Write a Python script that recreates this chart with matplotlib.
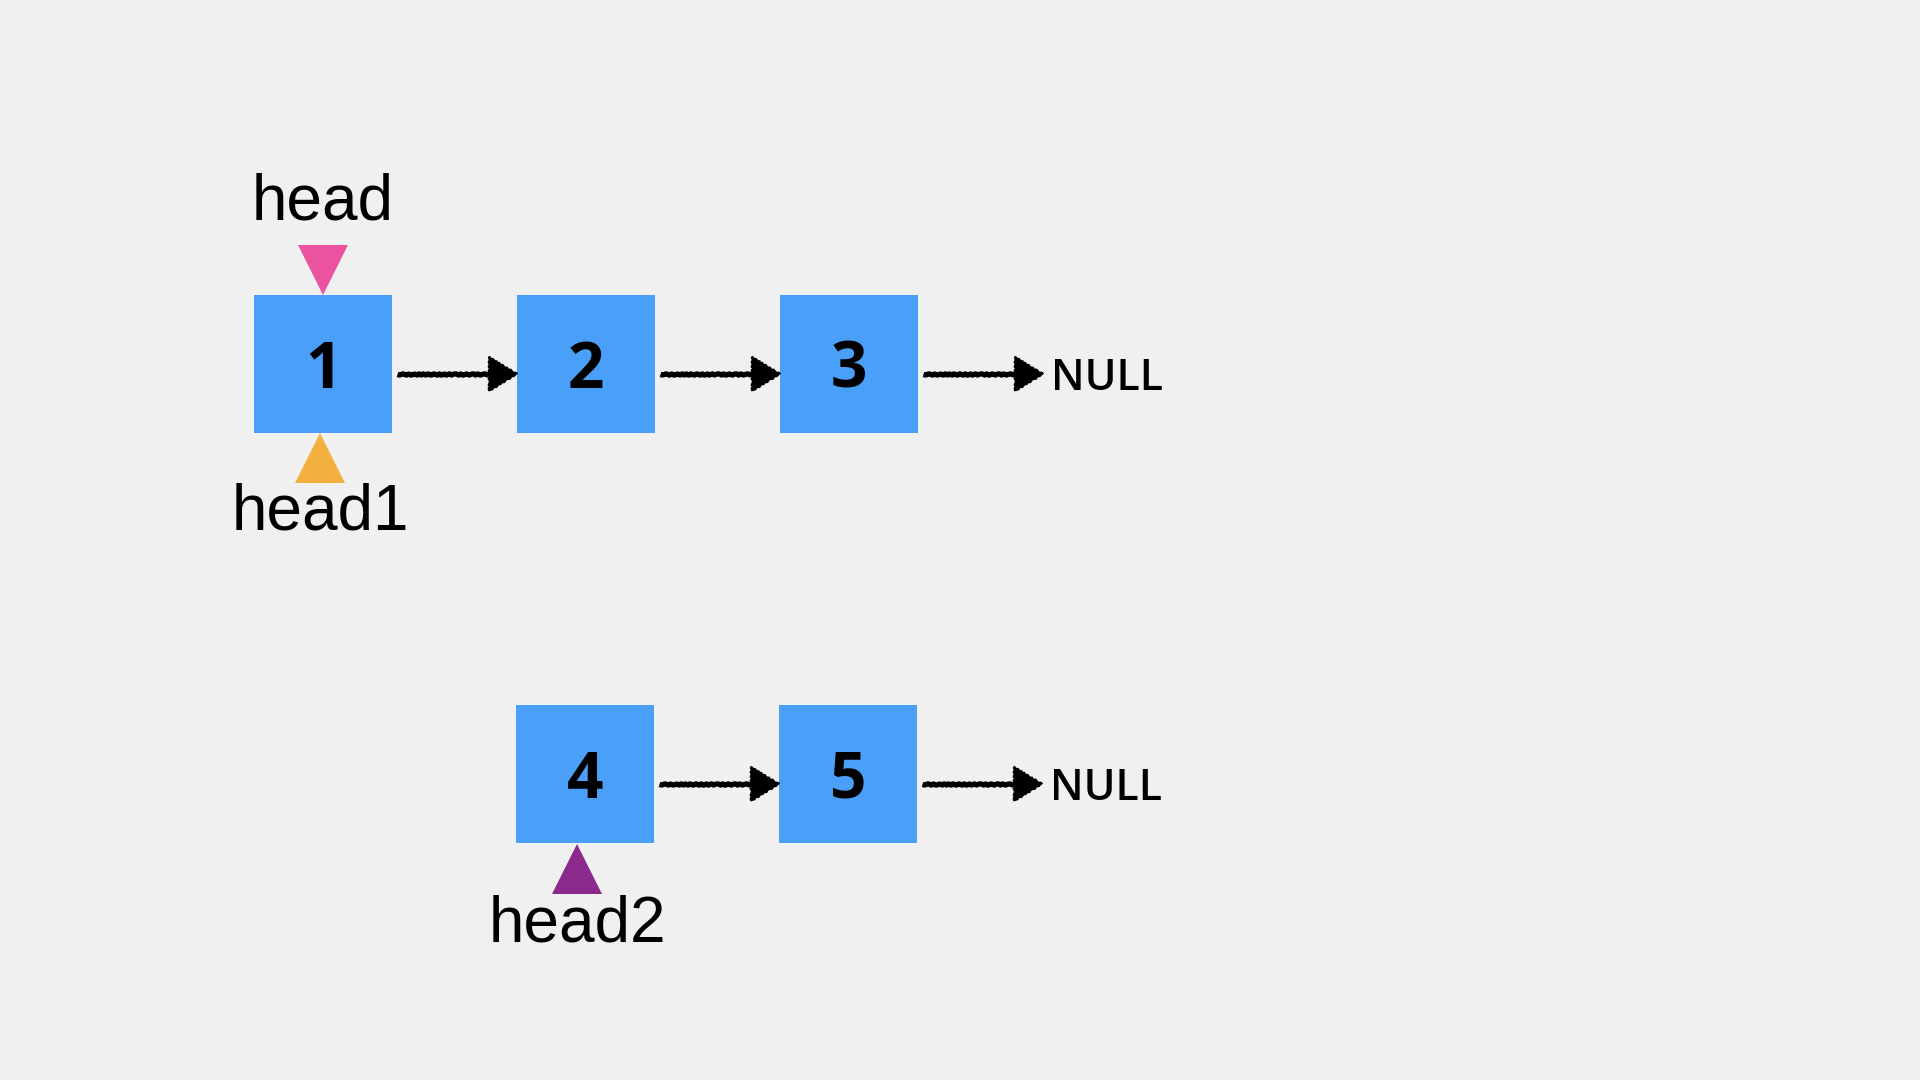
import matplotlib
matplotlib.use("Agg")
import matplotlib.pyplot as plt
from matplotlib.patches import Rectangle, Polygon

# ---- data ----
list1_values = ["1", "2", "3"]
list2_values = ["4", "5"]
null_label = "NULL"
pointer_labels = ["head", "head1", "head2"]
pointer_colors = ["#EC539F", "#F2B13E", "#8B2A8C"]

BG = "#F0F0F0"
BOX = "#4A9FF8"

fig = plt.figure(figsize=(19.2, 10.8), dpi=100, facecolor=BG)
ax = fig.add_axes([0, 0, 1, 1])
ax.set_xlim(0, 1920)
ax.set_ylim(1080, 0)
ax.axis("off")
ax.set_facecolor(BG)

SIZE = 138
PITCH = 263
NUM_FONT = dict(family=["Open Sans", "DejaVu Sans"], fontsize=46, fontweight="bold")
NULL_FONT = dict(family=["Open Sans", "DejaVu Sans"], fontsize=31, fontweight="semibold")
LABEL_FONT = dict(family=["Liberation Sans", "DejaVu Sans"], fontsize=46)


def arrow(x0, x1, y):
    (ln,) = ax.plot([x0, x1 - 20], [y, y], color="black", lw=3.8,
                    solid_capstyle="butt", zorder=3)
    ln.set_sketch_params(0.6, 6, 2)
    head = Polygon([[x1, y], [x1 - 28, y - 17], [x1 - 28, y + 17]], closed=True,
                   facecolor="black", edgecolor="black", lw=1.2, zorder=3)
    head.set_sketch_params(0.6, 5, 2)
    ax.add_patch(head)


def draw_list(values, x_start, y_top):
    for i, v in enumerate(values):
        x = x_start + i * PITCH
        ax.add_patch(Rectangle((x, y_top), SIZE, SIZE, facecolor=BOX,
                               edgecolor="none", zorder=2))
        ax.text(x + SIZE / 2, y_top + SIZE / 2 + 24, v, ha="center",
                va="baseline", color="black", zorder=4, **NUM_FONT)
        arrow(x + SIZE + 5, x + PITCH, y_top + 79)
    xn = x_start + (len(values) - 1) * PITCH + SIZE + 133
    ax.text(xn, y_top + 95, null_label, ha="left", va="baseline",
            color="black", **NULL_FONT)


# row 1
draw_list(list1_values, 254, 295)
# row 2
draw_list(list2_values, 516, 705)

# pointers
cx = 254 + SIZE / 2
ax.add_patch(Polygon([[cx - 25, 245], [cx + 25, 245], [cx, 295]],
                     facecolor=pointer_colors[0], edgecolor="none", zorder=3))
ax.text(cx, 220, pointer_labels[0], ha="center", va="baseline",
        color="black", **LABEL_FONT)

cx1 = 320
ax.add_patch(Polygon([[cx1 - 25, 483], [cx1 + 25, 483], [cx1, 433]],
                     facecolor=pointer_colors[1], edgecolor="none", zorder=3))
ax.text(cx1, 530, pointer_labels[1], ha="center", va="baseline",
        color="black", **LABEL_FONT)

cx2 = 577
ax.add_patch(Polygon([[cx2 - 25, 894], [cx2 + 25, 894], [cx2, 844]],
                     facecolor=pointer_colors[2], edgecolor="none", zorder=3))
ax.text(cx2, 942, pointer_labels[2], ha="center", va="baseline",
        color="black", **LABEL_FONT)

fig.savefig("out.png", dpi=100, facecolor=BG)
